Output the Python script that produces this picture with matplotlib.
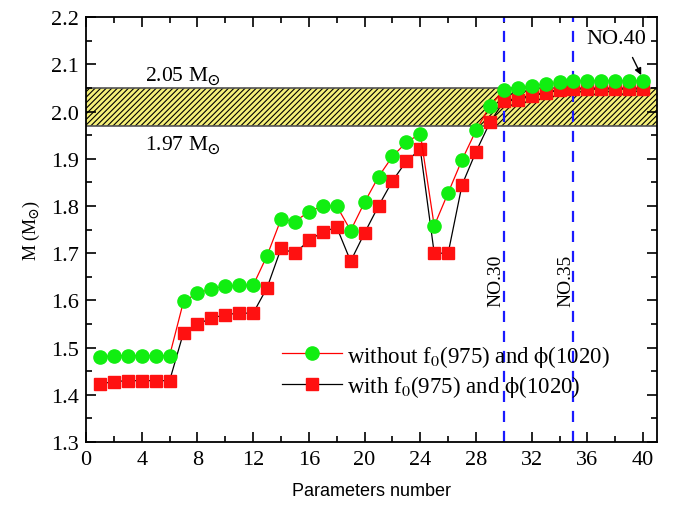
import numpy as np
import matplotlib
matplotlib.use("Agg")
import matplotlib.pyplot as plt
from matplotlib.ticker import MultipleLocator

# parameter sets 1..40
param_no = list(range(1, 41))
m_without = [1.480, 1.483, 1.483, 1.483, 1.483, 1.483, 1.598, 1.615, 1.625, 1.630,
             1.632, 1.632, 1.695, 1.772, 1.767, 1.788, 1.800, 1.800, 1.748, 1.808,
             1.862, 1.905, 1.935, 1.953, 1.758, 1.828, 1.898, 1.960, 2.012, 2.045,
             2.050, 2.055, 2.058, 2.062, 2.065, 2.065, 2.065, 2.065, 2.065, 2.065]
m_with = [1.423, 1.428, 1.430, 1.430, 1.430, 1.430, 1.532, 1.550, 1.562, 1.570,
          1.573, 1.573, 1.627, 1.710, 1.700, 1.727, 1.745, 1.755, 1.683, 1.743,
          1.800, 1.853, 1.895, 1.920, 1.700, 1.700, 1.845, 1.915, 1.977, 2.022,
          2.025, 2.033, 2.040, 2.045, 2.048, 2.048, 2.048, 2.048, 2.048, 2.048]
band = [1.97, 2.05]
vlines = [30, 35]

serif = "Liberation Serif"
plt.rcParams['font.family'] = serif
plt.rcParams['mathtext.fontset'] = 'stix'
plt.rcParams['hatch.linewidth'] = 0.8

fig = plt.figure(figsize=(6.83, 5.06), dpi=100)
ax = fig.add_axes([0.126, 0.1245, 0.836, 0.8395])

ax.axhspan(band[0], band[1], facecolor='#f5f07a', edgecolor='black', hatch='//////', lw=0, zorder=1)
ax.axhline(band[0], color='#555555', lw=1.2, zorder=1.5)
ax.axhline(band[1], color='#555555', lw=1.2, zorder=1.5)

for v in vlines:
    ax.axvline(v, color='#1a1aff', ls=(0, (5, 4)), lw=1.6, zorder=2)

ax.plot(param_no, m_without, color='red', lw=0.9, marker='o', ms=9.5,
        mfc='#11ee11', mec='#11ee11', zorder=4, label='without f$_0$(975) and $\\mathrm{\\phi}$(1020)')
ax.plot(param_no, m_with, color='black', lw=0.9, marker='s', ms=8.5,
        mfc='#ff1111', mec='#ff1111', zorder=3, label='with f$_0$(975) and $\\mathrm{\\phi}$(1020)')

ax.text(4.2, 2.077, r'2.05 M$_{\mathbf{\odot}}$', fontsize=15.5, ha='left', va='center')
ax.text(4.2, 1.932, r'1.97 M$_{\mathbf{\odot}}$', fontsize=15.5, ha='left', va='center')
ax.text(29.45, 1.643, 'NO.30', rotation=90, fontsize=14, ha='center', va='center')
ax.text(34.45, 1.643, 'NO.35', rotation=90, fontsize=14, ha='center', va='center')
ax.text(38.05, 2.155, 'NO.40', fontsize=16, ha='center', va='center')
ax.annotate('', xy=(39.95, 2.072), xytext=(39.15, 2.12),
            arrowprops=dict(arrowstyle='-|>', color='black', lw=1.0, mutation_scale=10))

ax.set_xlim(0, 41)
ax.set_ylim(1.3, 2.2)
ax.xaxis.set_major_locator(MultipleLocator(4))
ax.xaxis.set_minor_locator(MultipleLocator(2))
ax.yaxis.set_major_locator(MultipleLocator(0.1))
ax.yaxis.set_minor_locator(MultipleLocator(0.05))
ax.yaxis.set_major_formatter(plt.FormatStrFormatter('%.1f'))
ax.tick_params(which='both', direction='in', top=True, right=True, labelsize=16, width=1.2)
ax.tick_params(which='major', length=7)
ax.tick_params(which='minor', length=4)
ax.tick_params(axis='x', which='major', pad=6)
ax.tick_params(axis='y', which='major', pad=5)
for s in ax.spines.values():
    s.set_linewidth(1.3)

ax.set_xlabel('Parameters number', fontsize=13, family='Liberation Sans', labelpad=9)
ax.set_ylabel(r'M (M$_{\mathbf{\odot}}$)', fontsize=13, labelpad=7)

leg = ax.legend(loc='upper left', bbox_to_anchor=(0.315, 0.272), frameon=False, fontsize=16.5,
                handlelength=2.6, handletextpad=0.25, labelspacing=0.2, borderpad=0.2)

fig.savefig('out.png', dpi=100)
